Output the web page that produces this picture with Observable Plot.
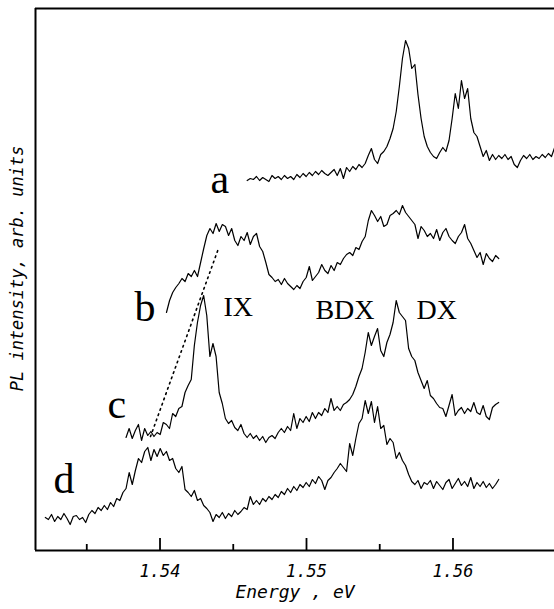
<!DOCTYPE html>
<html><head><meta charset="utf-8">
<script src="https://cdn.jsdelivr.net/npm/d3@7"></script>
<script src="https://cdn.jsdelivr.net/npm/@observablehq/plot@0.6"></script>
<style>body{margin:0;background:#fff}svg{display:block}</style>
</head><body><div id="chart"></div>
<script>
// sampling step of the spectra (eV)
const step = 0.000212;

// curve a
const startA = 1.54595;
const curveA = [376,378,377,380,376,379,377,375,381,378,
 380,377,381,378,380,377,382,379,383,380,
 384,381,385,382,386,383,381,384,387,381,
 388,378,389,385,390,387,392,389,393,401,
 408,397,393,402,405,410,418,428,445,470,
 498,516,508,488,492,462,438,420,410,404,
 400,398,404,409,405,416,438,463,448,476,
 458,468,438,424,420,410,400,406,396,402,
 397,401,398,402,397,400,392,389,396,401,
 398,402,397,400,398,402,399,403,400,409];

// curve b
const startB = 1.54044;
const curveB = [244,256,264,269,273,278,275,283,280,286,
 280,294,308,321,328,323,333,325,332,330,
 321,328,316,311,320,316,324,312,320,323,
 310,305,294,282,279,275,277,272,278,273,
 270,267,271,268,275,279,290,276,280,284,
 292,286,283,291,286,294,292,298,302,304,
 301,309,307,315,320,336,346,341,335,340,
 330,332,341,343,346,342,351,344,340,336,
 332,318,330,326,320,323,318,327,316,324,
 328,320,316,313,320,324,332,318,313,306,
 299,304,292,303,298,295,301,298];

// curve c
const startC = 1.53768;
const curveC = [119,128,118,126,132,116,128,121,125,120,
 124,122,134,132,128,143,140,148,150,164,
 171,177,211,234,251,261,241,200,213,200,
 164,153,138,133,136,129,126,132,123,119,
 123,118,121,116,120,114,119,121,118,124,
 128,124,130,126,143,128,138,134,140,135,
 144,138,144,141,148,144,158,146,150,146,
 152,154,157,162,170,180,188,204,224,211,
 220,228,206,200,214,222,234,256,244,240,
 236,208,200,196,184,176,168,176,161,158,
 153,149,148,140,151,162,141,146,149,143,
 148,145,154,144,142,151,140,137,149,152,
 154];

// curve d
const startD = 1.53217;
const curveD = [39,37,42,35,40,37,43,38,32,40,
 41,37,39,34,42,46,43,49,46,51,
 47,54,50,58,56,64,68,84,72,86,
 98,94,105,109,96,107,100,108,101,105,
 96,98,88,84,90,67,64,60,66,56,
 58,51,48,44,35,42,39,44,38,43,
 40,46,42,45,49,47,60,52,56,52,
 58,55,60,57,62,59,65,62,68,64,
 70,66,72,69,74,70,77,73,80,76,
 67,76,79,84,88,93,89,85,113,101,
 118,133,138,156,143,155,134,150,128,131,
 112,118,114,98,104,96,91,82,75,72,
 76,68,74,72,76,68,75,71,67,74,
 77,68,73,78,71,75,70,79,68,74,
 70,75,69,73,68,72,77];

// dotted guide line
const dotEnergy = [1.53935, 1.54399];
const dotIntensity = [120, 308];

// labels
const curveLabels = ["a", "b", "c", "d"];
const curveLabelEnergy = [1.54345, 1.53826, 1.53642, 1.53273];
const curveLabelIntensity = [364, 236, 139, 64];
const peakLabels = ["IX", "BDX", "DX"];
const peakLabelEnergy = [1.54433, 1.55061, 1.55751];
const peakLabelIntensity = [241, 238, 238];

// axis
const xDomain = [1.5315, 1.56693];
const yDomain = [6, 548];
const majorTicks = [1.54, 1.55, 1.56];
const minorTicks = [1.535, 1.545, 1.555];
const xLabel = "Energy , eV";
const yLabel = "PL intensity, arb. units";

function series(name, start, values) {
  return values.map((v, i) => ({name, energy: start + i * step, intensity: v}));
}
const spectra = [
  ...series("a", startA, curveA),
  ...series("b", startB, curveB),
  ...series("c", startC, curveC),
  ...series("d", startD, curveD)
];
const dotted = dotEnergy.map((e, i) => ({energy: e, intensity: dotIntensity[i]}));
const cLab = curveLabels.map((t, i) => ({t, energy: curveLabelEnergy[i], intensity: curveLabelIntensity[i]}));
const pLab = peakLabels.map((t, i) => ({t, energy: peakLabelEnergy[i], intensity: peakLabelIntensity[i]}));

const mono = "'DejaVu Sans Mono', monospace";
const serif = "'Liberation Serif', 'Times New Roman', serif";

const chart = Plot.plot({
  width: 554,
  height: 609,
  marginLeft: 35,
  marginRight: 0,
  marginTop: 8,
  marginBottom: 59,
  style: {background: "#fff", color: "#000", fontFamily: mono, fontStyle: "italic", fontSize: "17px"},
  x: {domain: xDomain, axis: null},
  y: {domain: yDomain, axis: null},
  marks: [
    Plot.ruleY([yDomain[1]], {stroke: "#000", strokeWidth: 2}),
    Plot.ruleY([yDomain[0]], {stroke: "#000", strokeWidth: 2}),
    Plot.ruleX([xDomain[0]], {stroke: "#000", strokeWidth: 2}),
    Plot.ruleX(majorTicks, {y1: yDomain[0], y2: yDomain[0] + 12, stroke: "#000", strokeWidth: 1.8}),
    Plot.ruleX(minorTicks, {y1: yDomain[0], y2: yDomain[0] + 6, stroke: "#000", strokeWidth: 1.8}),
    Plot.axisX(majorTicks, {tickSize: 0, tickPadding: 14, tickFormat: d3.format(".2f"), label: null, fontSize: 17, fontFamily: mono, fontStyle: "italic"}),
    Plot.text([xLabel], {frameAnchor: "bottom", dy: 47, fontSize: 18, fontFamily: mono, fontStyle: "italic"}),
    Plot.text([yLabel], {frameAnchor: "left", textAnchor: "middle", dx: -18, dy: -11, rotate: -90, fontSize: 17, fontFamily: mono, fontStyle: "italic"}),
    Plot.line(dotted, {x: "energy", y: "intensity", stroke: "#000", strokeWidth: 1.6, strokeDasharray: "1.6,4"}),
    Plot.line(spectra, {x: "energy", y: "intensity", z: "name", stroke: "#000", strokeWidth: 1.2, curve: "linear"}),
    Plot.text(cLab, {x: "energy", y: "intensity", text: "t", textAnchor: "start", lineAnchor: "bottom", fontSize: 42, fontFamily: serif, fontStyle: "normal"}),
    Plot.text(pLab, {x: "energy", y: "intensity", text: "t", textAnchor: "start", lineAnchor: "bottom", fontSize: 28, fontFamily: serif, fontStyle: "normal"})
  ]
});
document.getElementById("chart").appendChild(chart);
</script>
</body></html>
